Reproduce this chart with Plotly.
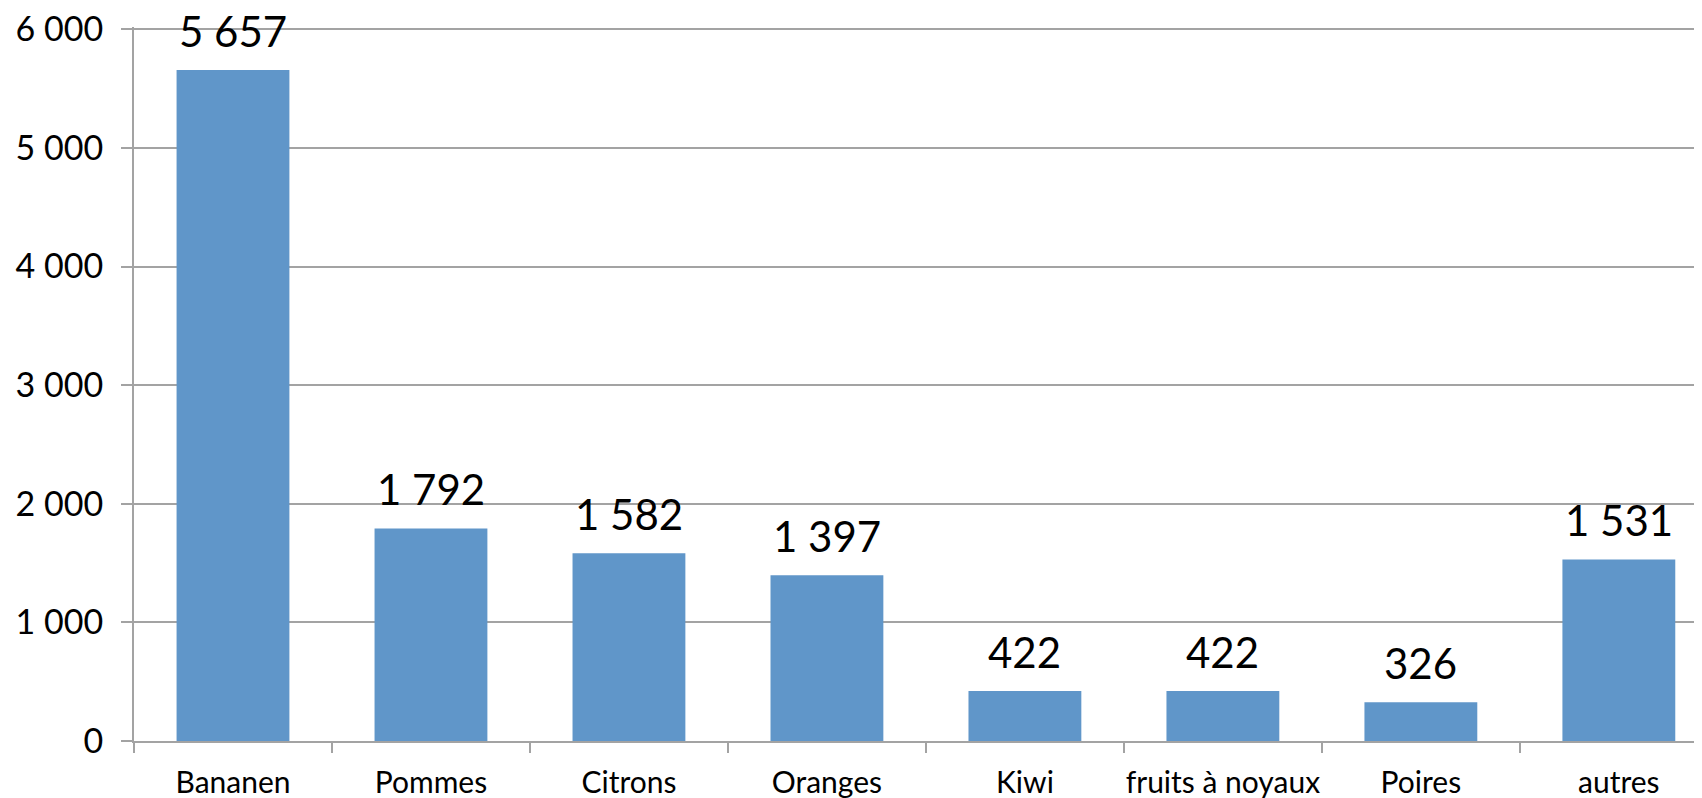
import plotly.graph_objects as go

categories = ["Bananen", "Pommes", "Citrons", "Oranges", "Kiwi", "fruits à noyaux", "Poires", "autres"]
values = [5657, 1792, 1582, 1397, 422, 422, 326, 1531]
value_labels = ["5 657", "1 792", "1 582", "1 397", "422", "422", "326", "1 531"]
y_ticks = [0, 1000, 2000, 3000, 4000, 5000, 6000]
y_tick_labels = ["0", "1 000", "2 000", "3 000", "4 000", "5 000", "6 000"]

FONT = "Lato, 'Open Sans', sans-serif"
GRID = "#A3A3A3"

fig = go.Figure()
fig.add_trace(go.Bar(
    x=categories, y=values,
    marker=dict(color="#6096C9", line=dict(width=0)),
    width=0.57,
    hoverinfo="x+y",
))

for c, v, t in zip(categories, values, value_labels):
    fig.add_annotation(x=c, y=v, text=t, showarrow=False, yanchor="bottom",
                       yshift=12, font=dict(family=FONT, size=42, color="black"))

# page body has an 8px margin: figure is sized to fill the rest of the window
fig.update_layout(
    width=1694, height=790,
    margin=dict(l=126, r=0, t=19, b=57),
    paper_bgcolor="white", plot_bgcolor="white",
    showlegend=False,
    font=dict(family=FONT, color="black"),
)
fig.update_xaxes(
    type="category", range=[-0.5, 7.42], automargin=False, tickangle=0,
    tickson="boundaries", ticks="outside", ticklen=10, tickwidth=2, tickcolor=GRID,
    showline=True, linecolor=GRID, linewidth=2,
    showgrid=False, zeroline=False,
    tickfont=dict(family=FONT, size=30, color="black"),
    ticklabelstandoff=14, ticklabeloverflow="allow",
)
fig.update_yaxes(
    range=[0, 6020], tickvals=y_ticks, ticktext=y_tick_labels, automargin=False,
    ticks="outside", ticklen=11, tickwidth=2, tickcolor=GRID,
    showline=True, linecolor=GRID, linewidth=2,
    showgrid=True, gridcolor=GRID, gridwidth=2,
    zeroline=False,
    tickfont=dict(family=FONT, size=34, color="black"),
    ticklabelstandoff=11, ticklabeloverflow="allow",
)

fig.write_html("out.html")
